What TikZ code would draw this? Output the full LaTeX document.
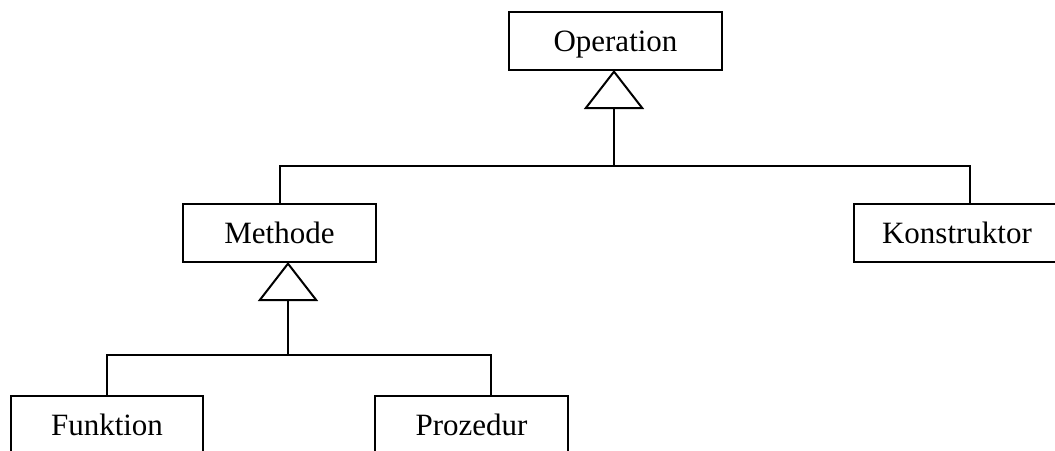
\documentclass[tikz,border=0pt]{standalone}
\usepackage{fontspec}
\setmainfont{Liberation Serif}
\usetikzlibrary{arrows.meta}
\tikzset{
  cls/.style={draw, line width=2pt, outer sep=0pt, inner sep=0pt,
    minimum height=58pt, text height=21pt, text depth=0pt,
    font=\fontsize{31}{37}\selectfont},
  link/.style={line width=2pt},
  gen/.style={link, -{Triangle[open, length=39pt, width=60pt, line width=2pt]}}
}
\begin{document}
\begin{tikzpicture}[x=1pt, y=-1pt]
  \useasboundingbox (0,0) rectangle (1055,450);
  \clip (0,0) rectangle (1055,450);

  % classes
  \node[cls, minimum width=213pt] (op) at (615.5,41)  {Operation};
  \node[cls, minimum width=193pt] (me) at (279.5,233) {Methode};
  \node[cls, minimum width=206pt] (ko) at (957,232.5) {Konstruktor};
  \node[cls, minimum width=192pt] (fu) at (107,425)   {Funktion};
  \node[cls, minimum width=193pt] (pr) at (471.5,425) {Prozedur};

  % junction points of the inheritance trees
  \coordinate (j1) at (614,166);
  \coordinate (j2) at (288,355);

  % Operation <- Methode, Konstruktor
  \draw[gen] (j1) -- (j1 |- op.south);
  \draw[link] (me.north) |- (j1) -| ([xshift=13pt]ko.north);

  % Methode <- Funktion, Prozedur
  \draw[gen] (j2) -- (j2 |- me.south);
  \draw[link] (fu.north) |- (j2) -| ([xshift=19.5pt]pr.north);
\end{tikzpicture}
\end{document}
